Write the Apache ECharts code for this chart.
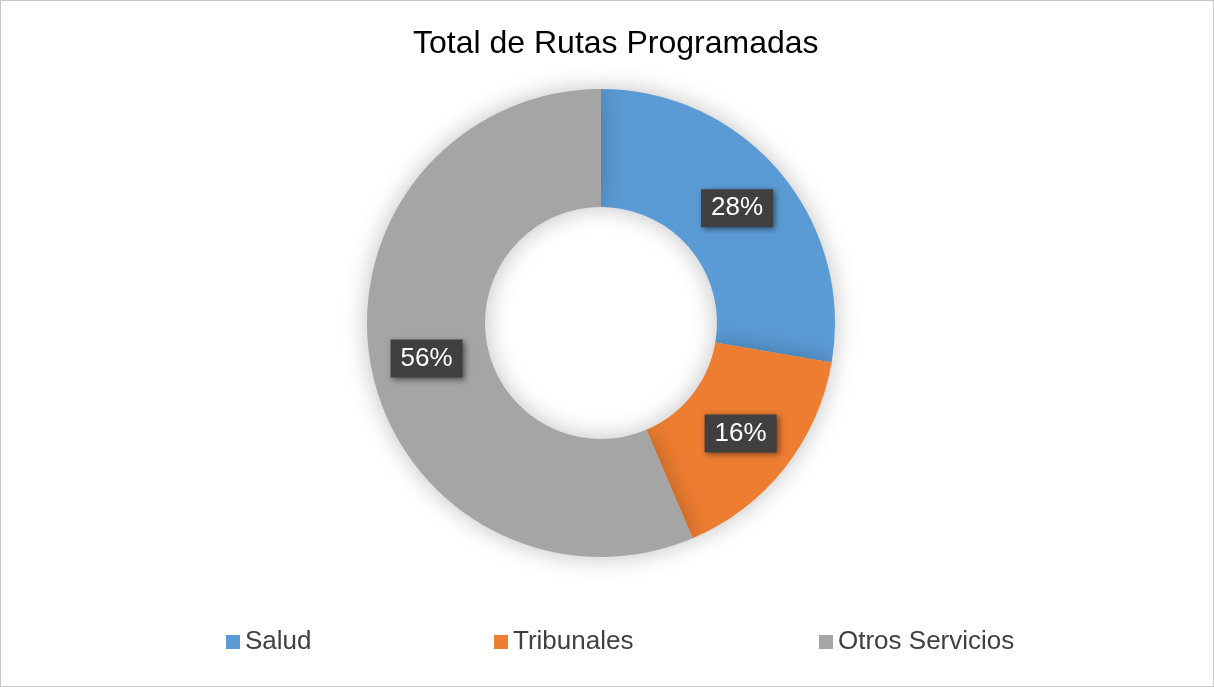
<!DOCTYPE html>
<html>
<head>
<meta charset="utf-8">
<script src="https://cdn.jsdelivr.net/npm/echarts@6/dist/echarts.min.js"></script>
<style>
  html, body { margin: 0; padding: 0; background: #fff; }
  #chart { width: 1212px; height: 685px; border: 1px solid #c8c8c8; }
</style>
</head>
<body>
<div id="chart"></div>
<script>
// datos del gráfico
const categories = ['Salud', 'Tribunales', 'Otros Servicios'];
const values = [27.7, 15.9, 56.4];
const colors = ['#5B9BD5', '#ED7D31', '#A5A5A5'];
const legendLeft = [225, 493, 818];

const chart = echarts.init(document.getElementById('chart'));

const fontFamily = 'Liberation Sans, Arial, sans-serif';

chart.setOption({
  animation: false,
  color: colors,
  title: {
    text: 'Total de Rutas Programadas',
    left: 412,
    top: 27,
    padding: 0,
    textStyle: {
      fontFamily: fontFamily,
      fontSize: 32,
      fontWeight: 'normal',
      color: '#000'
    }
  },
  // una leyenda por categoría para igualar el espaciado
  legend: categories.map((name, i) => ({
    top: 628,
    left: legendLeft[i],
    padding: 0,
    itemWidth: 14,
    itemHeight: 14,
    itemGap: 0,
    icon: 'rect',
    textStyle: {
      fontFamily: fontFamily,
      fontSize: 26,
      color: '#404040'
    },
    data: [name]
  })),
  series: [{
    type: 'pie',
    center: [600, 322],
    radius: [116, 234],
    startAngle: 90,
    clockwise: true,
    itemStyle: {
      shadowBlur: 25,
      shadowColor: 'rgba(0,0,0,0.25)'
    },
    label: {
      show: true,
      position: 'inside',
      formatter: p => Math.round(p.value) + '%',
      fontFamily: fontFamily,
      fontSize: 26,
      color: '#fff',
      backgroundColor: '#404040',
      padding: [7, 10, 5, 10],
      shadowBlur: 6,
      shadowColor: 'rgba(0,0,0,0.5)',
      shadowOffsetX: 2,
      shadowOffsetY: 2
    },
    labelLine: { show: false },
    emphasis: { disabled: true },
    data: categories.map((name, i) => ({ name: name, value: values[i] }))
  }]
});
</script>
</body>
</html>
